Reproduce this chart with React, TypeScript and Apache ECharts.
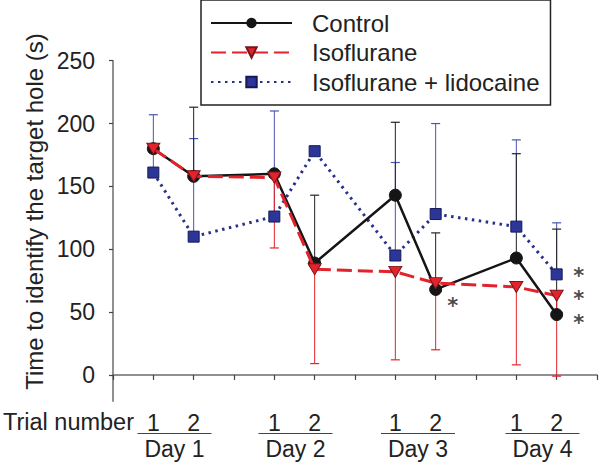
import React, { useEffect, useRef } from 'react';
import * as echarts from 'echarts';

const trials = [1, 2, 4, 5, 7, 8, 10, 11];
const trialLabels = ['1', '2', '1', '2', '1', '2', '1', '2'];
const days = ['Day 1', 'Day 2', 'Day 3', 'Day 4'];
const seriesNames = ['Control', 'Isoflurane', 'Isoflurane + lidocaine'];
const controlValues = [180, 158, 160, 89, 143, 68, 93, 48];
const isoValues = [180, 158, 157, 84, 82, 73, 70, 63];
const lidoValues = [161, 110, 126, 178, 95, 128, 118, 80];
// end points of the error bars (upper for Control / lidocaine, lower for Isoflurane)
const controlErrEnd = [null, 213, null, 143, 201, 113, 176, 116];
const isoErrEnd = [null, null, 101, 9, 12, 20, 8, -1];
const lidoErrEnd = [207, 188, 210, null, 169, 200, 187, 121];
const yTicks = [0, 50, 100, 150, 200, 250];
// significance marks: [series index, point index, text]
const sigMarks: [number, number, string][] = [[0, 5, '*'], [2, 7, '*'], [1, 7, '*'], [0, 7, '*']];

const FONT = 'Liberation Sans, Arial, sans-serif';
const RED = '#e3232b';
const BLUE = '#28308a';
const BLACK = '#151515';

function errData(vals: number[], ends: (number | null)[]) {
  const out: number[][] = [];
  trials.forEach((t, i) => {
    if (ends[i] !== null) out.push([t, vals[i], ends[i] as number]);
  });
  return out;
}

function errSeries(vals: number[], ends: (number | null)[], color: string) {
  return {
    type: 'custom',
    z: 1,
    silent: true,
    data: errData(vals, ends),
    encode: { x: 0, y: [1, 2] },
    renderItem: (params: any, api: any) => {
      const x = api.value(0);
      const p0 = api.coord([x, api.value(1)]);
      const p1 = api.coord([x, api.value(2)]);
      const hw = 4.5;
      return {
        type: 'group',
        children: [
          { type: 'line', shape: { x1: p0[0], y1: p0[1], x2: p1[0], y2: p1[1] }, style: { stroke: color, lineWidth: 1 } },
          { type: 'line', shape: { x1: p1[0] - hw, y1: p1[1], x2: p1[0] + hw, y2: p1[1] }, style: { stroke: color, lineWidth: 1.2 } },
        ],
      };
    },
  };
}

const allValues = [controlValues, isoValues, lidoValues];
const sigOffsets = [[17, 17], [22, 2], [22, 3], [22, 8]];

export default function App() {
  const ref = useRef<HTMLDivElement>(null);
  useEffect(() => {
    if (!ref.current) return;
    const chart = echarts.init(ref.current, null, { renderer: 'svg' });
    const pts = (vals: number[]) => trials.map((t, i) => [t, vals[i]]);
    chart.setOption({
      animation: false,
      textStyle: { fontFamily: FONT },
      grid: { left: 113, top: 60.7, width: 486, height: 340.6 },
      legend: {
        data: seriesNames,
        orient: 'vertical',
        left: 201,
        top: 0,
        padding: [11, 11, 11, 9],
        itemWidth: 81,
        itemHeight: 13,
        itemGap: 5.5,
        borderColor: '#222',
        borderWidth: 1.5,
        textStyle: { fontSize: 24, color: '#222', fontFamily: FONT, padding: [0, 0, 0, 15], lineHeight: 24 },
      },
      xAxis: {
        type: 'value',
        min: 0,
        max: 12,
        interval: 1,
        splitLine: { show: false },
        axisLine: { lineStyle: { color: '#6b6b6b', width: 1.5 } },
        axisTick: { length: 5, lineStyle: { color: '#444', width: 1.2 } },
        axisLabel: {
          fontSize: 23,
          color: '#222',
          margin: 10,
          formatter: (v: number) => {
            const i = trials.indexOf(v);
            return i >= 0 ? trialLabels[i] : '';
          },
        },
      },
      yAxis: {
        type: 'value',
        min: -21,
        max: 250,
        splitLine: { show: false },
        axisLine: { show: true, lineStyle: { color: '#6b6b6b', width: 1.5 } },
        axisTick: { show: true, length: 4, customValues: yTicks, lineStyle: { color: '#444', width: 1.2 } },
        axisLabel: { fontSize: 23, color: '#222', margin: 18, customValues: yTicks },
      },
      series: [
        errSeries(lidoValues, lidoErrEnd, '#4a55ad'),
        errSeries(controlValues, controlErrEnd, '#222'),
        errSeries(isoValues, isoErrEnd, RED),
        {
          name: seriesNames[2],
          type: 'line',
          z: 2,
          data: pts(lidoValues),
          symbol: 'rect',
          symbolSize: 11,
          itemStyle: { color: '#2c3699', borderColor: '#151a55', borderWidth: 1 },
          lineStyle: { color: BLUE, width: 3, type: [2.5, 4.5] },
        },
        {
          name: seriesNames[0],
          type: 'line',
          z: 3,
          data: pts(controlValues),
          symbol: 'circle',
          symbolSize: 12,
          itemStyle: { color: BLACK, borderColor: BLACK },
          lineStyle: { color: BLACK, width: 2.5 },
        },
        {
          name: seriesNames[1],
          type: 'line',
          z: 4,
          data: pts(isoValues),
          symbol: 'path://M0,0L12,0L6,10Z',
          symbolSize: [13, 11],
          itemStyle: { color: RED, borderColor: '#7a1418', borderWidth: 1 },
          lineStyle: { color: RED, width: 3, type: [15, 6] },
        },
        {
          type: 'scatter',
          z: 5,
          silent: true,
          symbol: 'circle',
          symbolSize: 1,
          itemStyle: { color: 'rgba(0,0,0,0)' },
          data: sigMarks.map(([s, i, txt], k) => ({
            value: [trials[i], allValues[s][i]],
            label: { offset: sigOffsets[k], formatter: txt },
          })),
          label: {
            show: true,
            position: 'inside',
            fontSize: 21,
            fontWeight: 'bold',
            color: '#1a1a1a',
            fontFamily: 'DejaVu Sans',
          },
        },
      ],
    });

    const px = (v: number) => chart.convertToPixel({ xAxisIndex: 0 }, v) as number;
    const dayOffsets = [1, 1, 2.5, 6];
    const graphics: any[] = [
      {
        type: 'text',
        x: 34,
        y: 211.5,
        rotation: Math.PI / 2,
        style: { text: 'Time to identify the target hole (s)', font: `24px ${FONT}`, fill: '#222', textAlign: 'center', textVerticalAlign: 'middle' },
      },
      {
        type: 'text',
        x: 134,
        y: 421.5,
        style: { text: 'Trial number', font: `23.5px ${FONT}`, fill: '#222', textAlign: 'right', textVerticalAlign: 'middle' },
      },
    ];
    days.forEach((d, k) => {
      const cx = (px(trials[2 * k]) + px(trials[2 * k + 1])) / 2 + dayOffsets[k];
      graphics.push({
        type: 'line',
        shape: { x1: cx - 37, y1: 433.5, x2: cx + 37, y2: 433.5 },
        style: { stroke: '#444', lineWidth: 1 },
      });
      graphics.push({
        type: 'text',
        x: cx,
        y: 448.5,
        style: { text: d, font: `23px ${FONT}`, fill: '#222', textAlign: 'center', textVerticalAlign: 'middle' },
      });
    });
    chart.setOption({ graphic: graphics });
    return () => chart.dispose();
  }, []);
  return <div ref={ref} style={{ width: 600, height: 464, position: 'absolute', left: 0, top: 0 }} />;
}
